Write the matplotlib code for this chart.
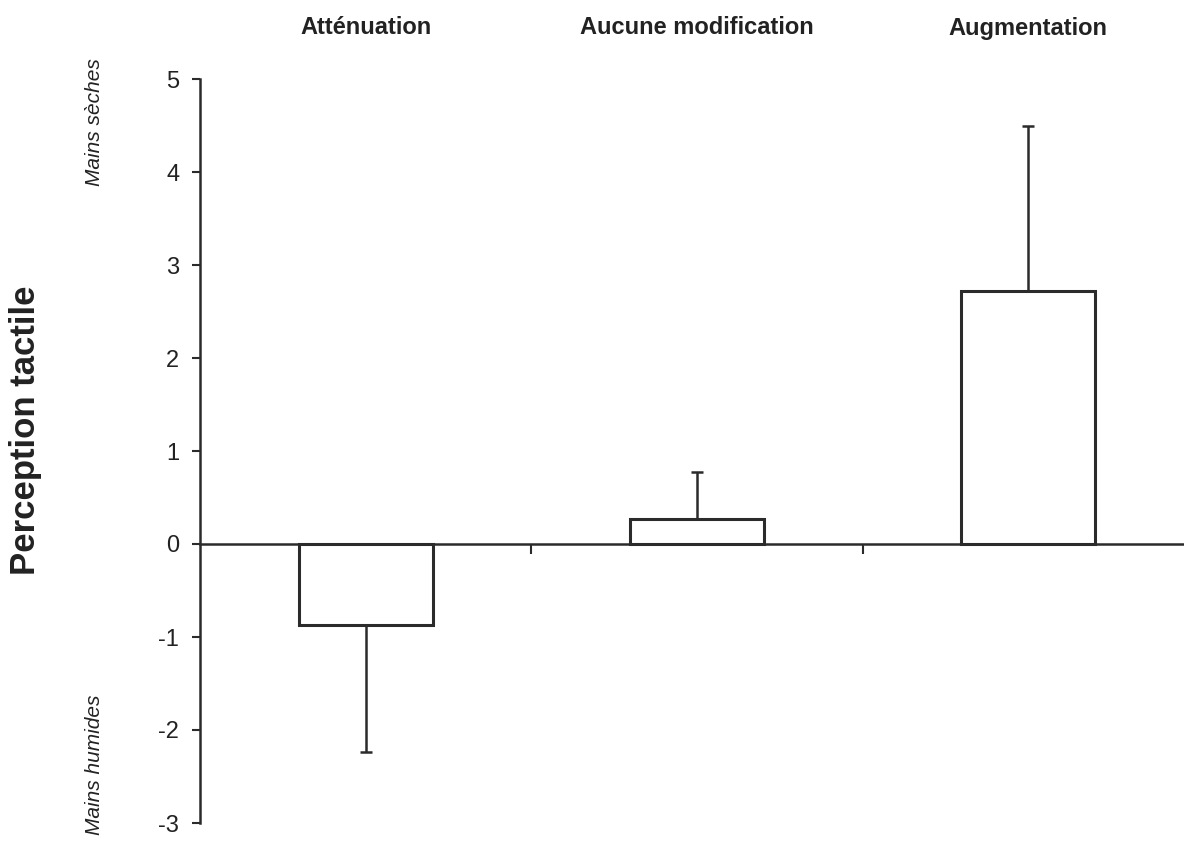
import matplotlib
matplotlib.use("Agg")
import matplotlib.pyplot as plt
import matplotlib.transforms as mtransforms

plt.rcParams['font.family'] = ['Liberation Sans', 'DejaVu Sans']

categories = ["Atténuation", "Aucune modification", "Augmentation"]
means = [-0.87, 0.27, 2.72]
errors = [1.37, 0.50, 1.78]
y_ticks = [-3, -2, -1, 0, 1, 2, 3, 4, 5]

line_col = '#2b2b2b'

fig = plt.figure(figsize=(11.84, 8.42), dpi=100)
ax = fig.add_axes([200/1184, 19/842, 1 - 200/1184, (823 - 79)/842])

x = list(range(len(categories)))
# one-sided error bars: downwards for negative means, upwards otherwise
lower = [e if m < 0 else 0 for m, e in zip(means, errors)]
upper = [0 if m < 0 else e for m, e in zip(means, errors)]

ax.bar(x, means, width=0.405, facecolor='white', edgecolor=line_col,
       linewidth=2.2, zorder=3)
ax.errorbar(x, means, yerr=[lower, upper], fmt='none', ecolor=line_col,
            elinewidth=1.8, capsize=4, capthick=1.8, zorder=4)

ax.set_xlim(-0.5, 2.47)
ax.set_ylim(-3, 5)

for s in ['top', 'right']:
    ax.spines[s].set_visible(False)
ax.spines['bottom'].set_position(('data', 0))
ax.spines['bottom'].set_color(line_col)
ax.spines['bottom'].set_linewidth(1.8)
ax.spines['left'].set_color(line_col)
ax.spines['left'].set_linewidth(1.8)

ax.set_xticks([0.5, 1.5])
ax.set_xticklabels([])
ax.tick_params(axis='x', direction='out', length=7, width=1.5, color=line_col)
ax.set_yticks(y_ticks)
ax.set_yticklabels([str(v) for v in y_ticks])
ax.tick_params(axis='y', direction='out', length=6, width=1.5, color=line_col,
               labelsize=17, pad=9, labelcolor='#222222')

trans = mtransforms.blended_transform_factory(ax.transData, fig.transFigure)
for xi, name in zip(x, categories):
    ax.text(xi, 1 - 28/842, name, transform=trans, ha='center', va='center',
            fontsize=17, fontweight='bold', color='#222222')

fig.text(26/1184, 1 - 430/842, "Perception tactile", rotation=90,
         ha='center', va='center', fontsize=25, fontweight='bold', color='#222222')
fig.text(95/1184, 1 - 122/842, "Mains sèches", rotation=90,
         ha='center', va='center', fontsize=15, style='italic', color='#222222')
fig.text(95/1184, 1 - 765/842, "Mains humides", rotation=90,
         ha='center', va='center', fontsize=15, style='italic', color='#222222')

fig.savefig("out.png", dpi=100)
